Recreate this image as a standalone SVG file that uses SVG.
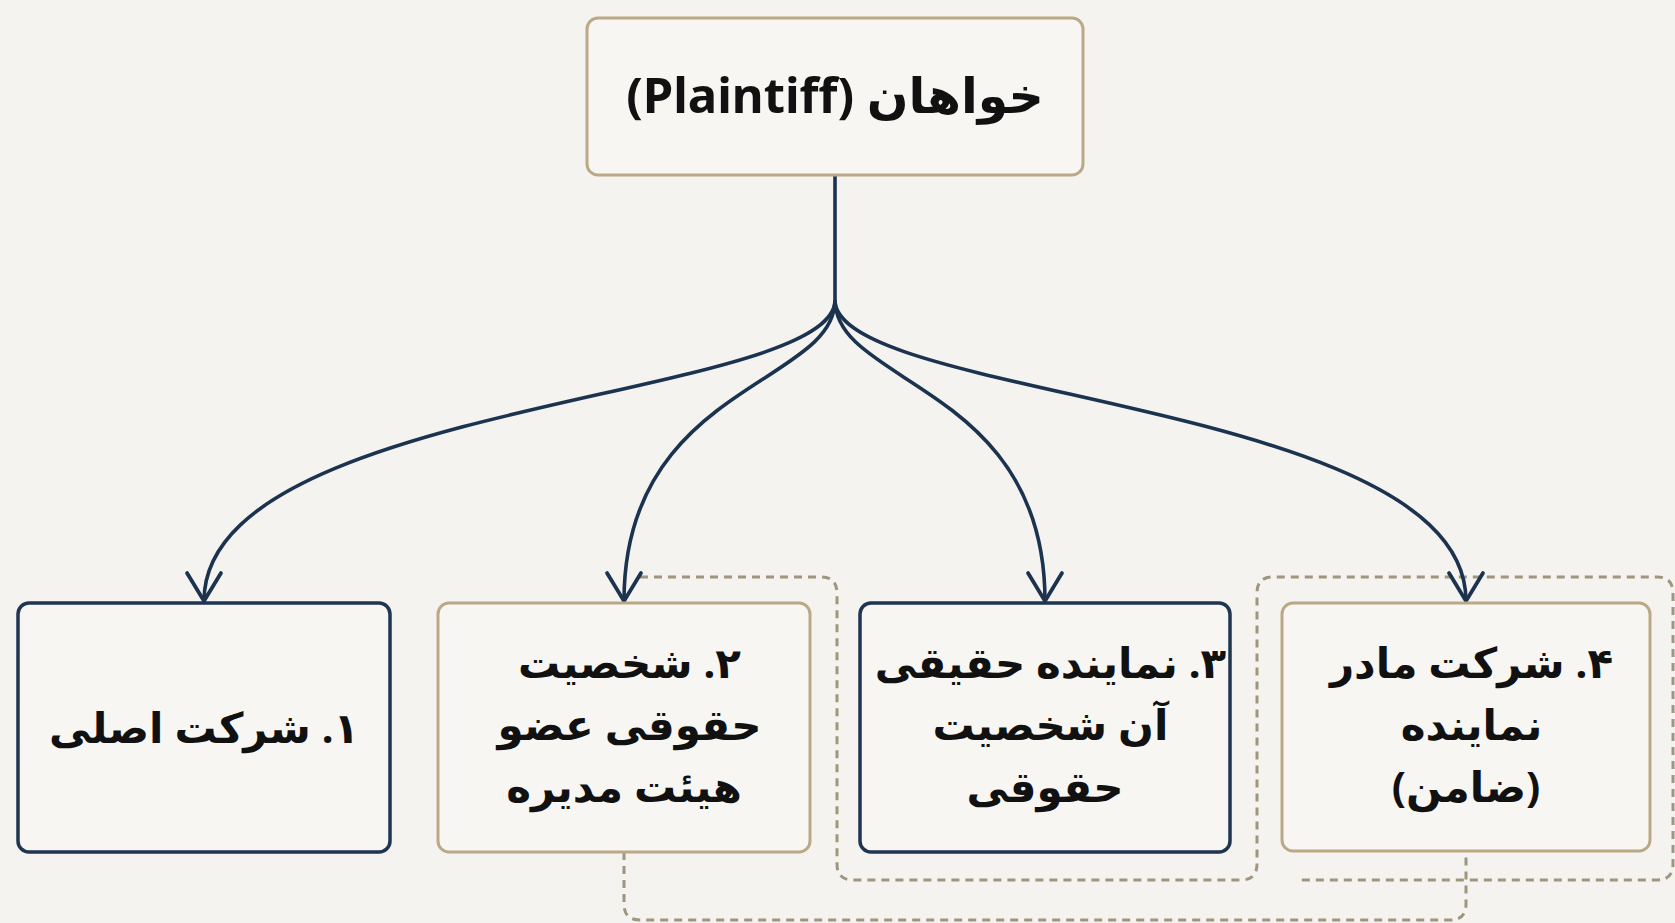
<svg xmlns="http://www.w3.org/2000/svg" width="1675" height="923" viewBox="0 0 1675 923">
  <style>
    .bg { fill: #f4f3ef; }
    .box { fill: #f7f6f3; stroke-width: 3; }
    .tan { stroke: #bba985; }
    .navy { stroke: #1f3550; stroke-width: 3.5; }
    .label { font-family: 'Noto Sans', 'DejaVu Sans', sans-serif; font-weight: bold; fill: #111111; text-anchor: middle; direction: rtl; }
    .edge { fill: none; stroke: #1c3350; stroke-width: 3.6; }
    .group { fill: none; stroke: #a0967f; stroke-width: 3; stroke-dasharray: 8 6; }
  </style>
  <defs>
    <marker id="chev" viewBox="-32 -20 40 40" refX="0" refY="0" markerWidth="40" markerHeight="40" markerUnits="userSpaceOnUse" orient="auto">
      <path d="M-28,-17 L0,0 L-28,17" fill="none" stroke="#1c3350" stroke-width="3.8" stroke-linejoin="round" stroke-linecap="round"/>
    </marker>
  </defs>

  <rect class="bg" x="0" y="0" width="1675" height="923"/>

  <!-- dashed grouping outlines -->
  <g id="groups">
    <path class="group" d="M640,577 H821 Q837,577 837,593 V864 Q837,880 853,880 H1241 Q1257,880 1257,864 V593 Q1257,577 1273,577 H1657 Q1673,577 1673,593 V864 Q1673,880 1657,880 H1300"/>
    <path class="group" d="M624,852 V904 Q624,920 640,920 H1450 Q1466,920 1466,904 V852"/>
  </g>

  <!-- connectors from the plaintiff to each party -->
  <g id="connectors">
    <path class="edge" d="M835,175 V300"/>
    <path class="edge" marker-end="url(#chev)" d="M835,300 C835,400 204,400 204,601"/>
    <path class="edge" marker-end="url(#chev)" d="M835,300 C835,385 624,385 624,601"/>
    <path class="edge" marker-end="url(#chev)" d="M835,300 C835,385 1045,385 1045,601"/>
    <path class="edge" marker-end="url(#chev)" d="M835,300 C835,400 1466,400 1466,601"/>
  </g>

  <g id="plaintiff">
    <rect class="box tan" x="587" y="18" width="496" height="157" rx="11"/>
    <text class="label" x="835" y="113" font-size="49">خواهان (Plaintiff)</text>
  </g>

  <g id="party-1">
    <rect class="box navy" x="18" y="603" width="372" height="249" rx="11"/>
    <text class="label" x="204" y="743" font-size="42">۱. شرکت اصلی</text>
  </g>

  <g id="party-2">
    <rect class="box tan" x="438" y="603" width="372" height="249" rx="11"/>
    <text class="label" font-size="42">
      <tspan x="624" y="678">۲. شخصیت</tspan>
      <tspan x="624" y="740">حقوقی عضو</tspan>
      <tspan x="624" y="802">هیئت مدیره</tspan>
    </text>
  </g>

  <g id="party-3">
    <rect class="box navy" x="860" y="603" width="370" height="249" rx="11"/>
    <text class="label" font-size="42">
      <tspan x="1045" y="678">۳. نماینده حقیقی</tspan>
      <tspan x="1045" y="740">آن شخصیت</tspan>
      <tspan x="1045" y="802">حقوقی</tspan>
    </text>
  </g>

  <g id="party-4">
    <rect class="box tan" x="1282" y="603" width="368" height="248" rx="11"/>
    <text class="label" font-size="42">
      <tspan x="1466" y="678">۴. شرکت مادر</tspan>
      <tspan x="1466" y="740">نماینده</tspan>
      <tspan x="1466" y="802">(ضامن)</tspan>
    </text>
  </g>
</svg>
